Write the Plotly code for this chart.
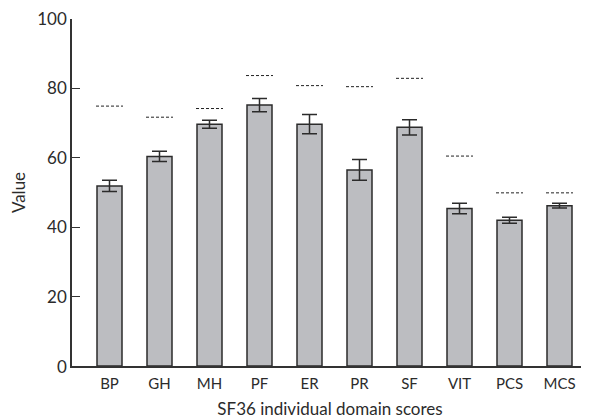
import plotly.graph_objects as go

categories = ["BP", "GH", "MH", "PF", "ER", "PR", "SF", "VIT", "PCS", "MCS"]
values = [51.9, 60.4, 69.7, 75.2, 69.7, 56.5, 68.8, 45.4, 42.0, 46.2]
errors = [1.6, 1.5, 1.15, 1.9, 2.8, 3.0, 2.2, 1.5, 0.85, 0.7]
reference = [74.9, 71.7, 74.2, 83.7, 80.8, 80.5, 82.9, 60.5, 49.9, 49.9]
y_ticks = [0, 20, 40, 60, 80, 100]
y_tick_labels = ["", "20", "40", "60", "80", "100"]
zero_label = "0"

xpos = list(range(len(categories)))
half = 0.27
ref_x, ref_y = [], []
for i, r in zip(xpos, reference):
    ref_x += [i - half, i + half, None]
    ref_y += [r, r, None]

fig = go.Figure()
fig.add_trace(go.Bar(
    x=xpos, y=values, width=0.5,
    marker=dict(color="#bcbdc1", line=dict(color="#2b2b2b", width=1.5)),
    error_y=dict(type="data", array=errors, visible=True,
                 color="#2b2b2b", thickness=1.5, width=7.5),
    showlegend=False,
))
fig.add_trace(go.Scatter(
    x=ref_x, y=ref_y, mode="lines",
    line=dict(color="#222222", width=1, dash="3px,2px"),
    showlegend=False, hoverinfo="skip",
))

font_family = "Lato, 'Open Sans', sans-serif"
# the page body adds an 8px offset; margins compensate for it
fig.update_layout(
    width=589, height=419,
    margin=dict(l=64, r=9, t=11, b=61, autoexpand=False),
    plot_bgcolor="white", paper_bgcolor="white",
    font=dict(family=font_family, color="#2b2b2b"),
    bargap=0.5,
)
fig.update_xaxes(
    range=[-0.75, 9.57], automargin=False,
    tickmode="array", tickvals=xpos, ticktext=categories,
    tickfont=dict(size=15), ticks="", ticklabelstandoff=3,
    showline=True, linecolor="#333333", linewidth=1.5,
    showgrid=False, zeroline=False, ticklabeloverflow="allow",
    title=dict(text="SF36 individual domain scores", font=dict(size=17), standoff=12),
)
fig.update_yaxes(
    range=[0, 100], automargin=False,
    tickmode="array", tickvals=y_ticks, ticktext=y_tick_labels,
    tickfont=dict(size=17), ticks="inside", ticklen=8, tickcolor="#333333", tickwidth=1.2,
    showline=True, linecolor="#333333", linewidth=1.5,
    showgrid=False, zeroline=False, ticklabeloverflow="allow",
    title=dict(text="Value", font=dict(size=17), standoff=16),
)
fig.add_annotation(
    text=zero_label, xref="paper", x=0, yref="y", y=y_ticks[0],
    xanchor="right", yanchor="middle", xshift=-3, showarrow=False,
    font=dict(size=17, family=font_family, color="#2b2b2b"),
)

fig.write_html("out.html")
